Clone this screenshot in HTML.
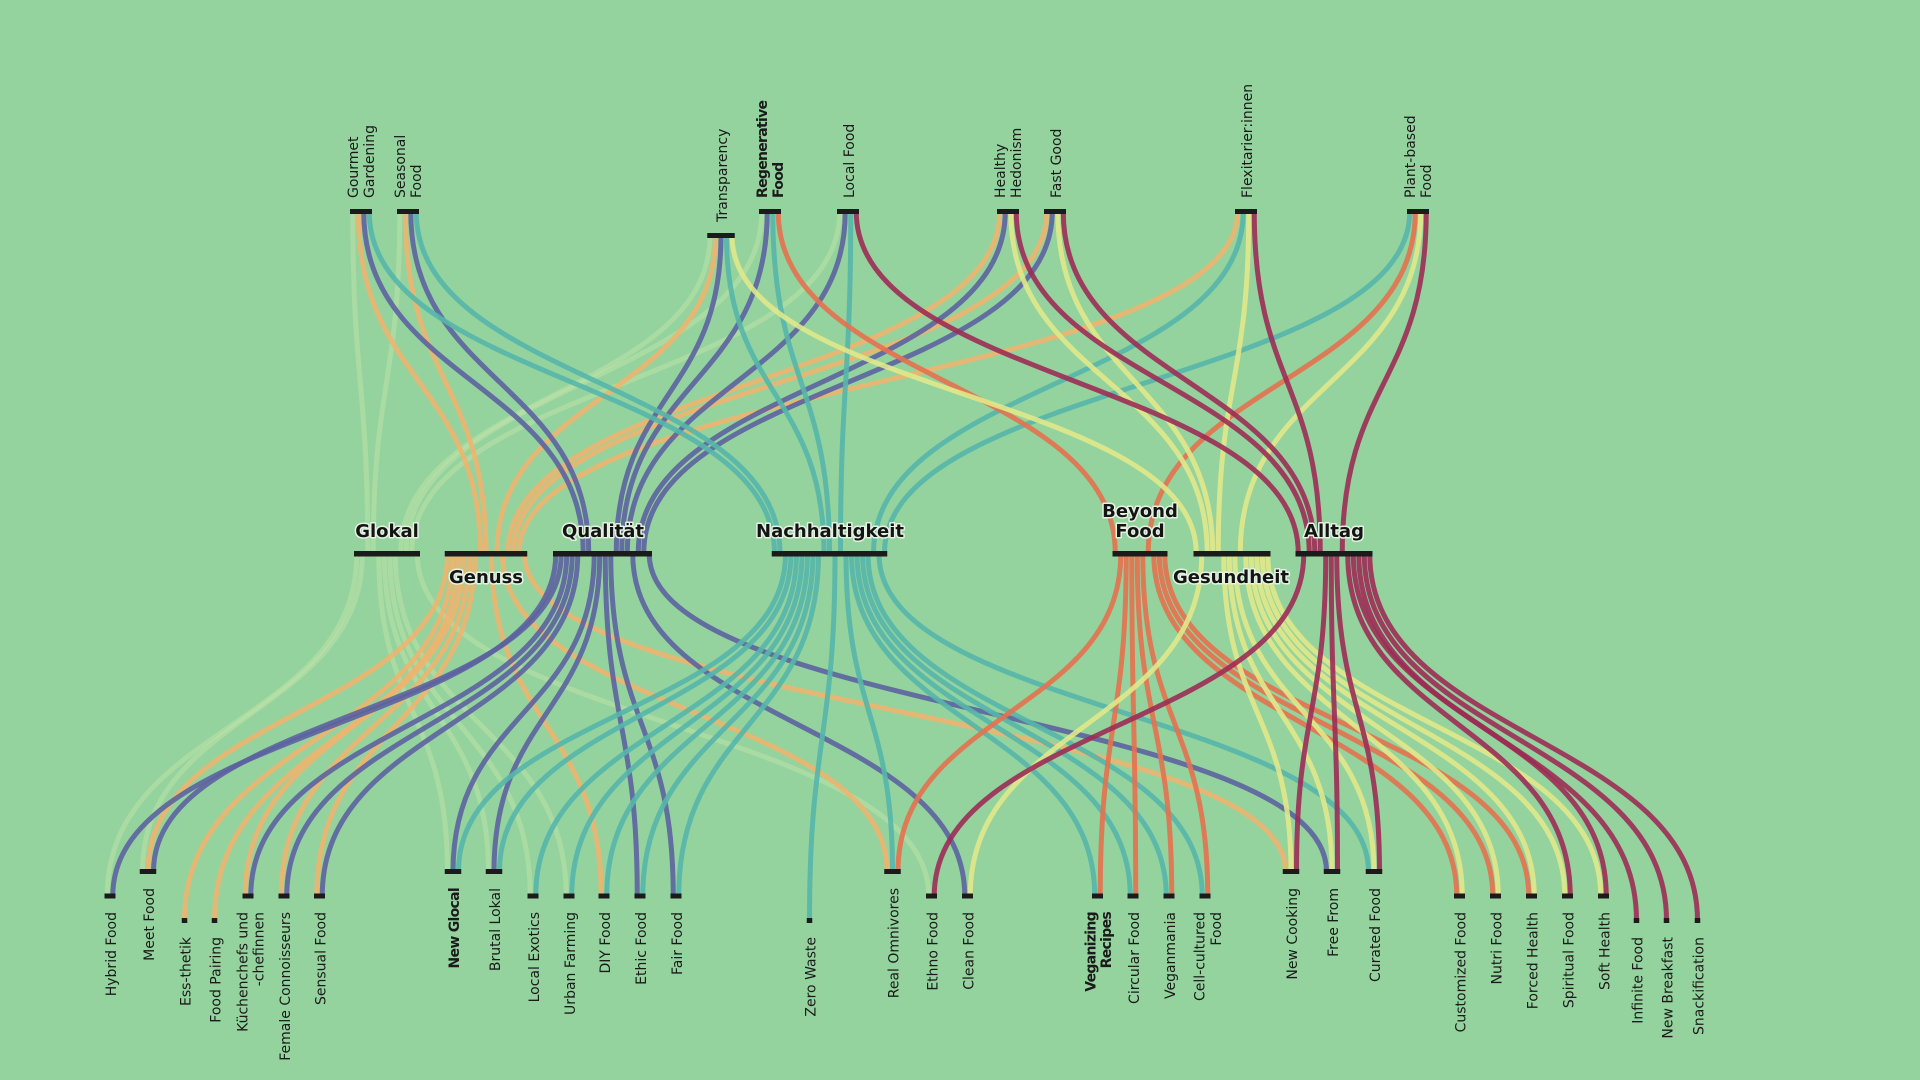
<!DOCTYPE html>
<html>
<head>
<meta charset="utf-8">
<style>
  html,body{margin:0;padding:0;background:#94d39e;}
  svg{display:block;}
  .lb{font-family:"DejaVu Sans","Liberation Sans",sans-serif;font-size:14px;fill:#1a1a1a;}
  .bd{font-weight:bold;letter-spacing:-0.7px;}
  .mid{font-family:"DejaVu Sans","Liberation Sans",sans-serif;font-size:18px;font-weight:bold;fill:#141414;stroke:#e4f2e2;stroke-width:3px;paint-order:stroke;stroke-linejoin:round;}
</style>
</head>
<body>
<svg id="chart" width="1920" height="1080" viewBox="0 0 1920 1080" xmlns="http://www.w3.org/2000/svg">
  <rect x="0" y="0" width="1920" height="1080" fill="#94d39e"/>
  <g id="links" fill="none" stroke-width="5"></g>
  <g id="bars" fill="#1b1b1b"></g>

  <!-- middle labels -->
  <g>
    <text class="mid" x="387" y="537" text-anchor="middle">Glokal</text>
    <text class="mid" x="603" y="537" text-anchor="middle">Qualität</text>
    <text class="mid" x="830" y="537" text-anchor="middle">Nachhaltigkeit</text>
    <text class="mid" x="1140" y="517" text-anchor="middle">Beyond</text>
    <text class="mid" x="1140" y="537" text-anchor="middle">Food</text>
    <text class="mid" x="1334" y="537" text-anchor="middle">Alltag</text>
    <text class="mid" x="486" y="583" text-anchor="middle">Genuss</text>
    <text class="mid" x="1231" y="583" text-anchor="middle">Gesundheit</text>
  </g>

  <!-- top labels -->
  <g class="lb">
    <text class="lb" transform="translate(358,198) rotate(-90)">Gourmet</text>
    <text class="lb" transform="translate(374,198) rotate(-90)">Gardening</text>
    <text class="lb" transform="translate(405,198) rotate(-90)">Seasonal</text>
    <text class="lb" transform="translate(421,198) rotate(-90)">Food</text>
    <text class="lb" transform="translate(727,222) rotate(-90)">Transparency</text>
    <text class="lb bd" transform="translate(767,198) rotate(-90)">Regenerative</text>
    <text class="lb bd" transform="translate(783,198) rotate(-90)">Food</text>
    <text class="lb" transform="translate(854,198) rotate(-90)">Local Food</text>
    <text class="lb" transform="translate(1005,198) rotate(-90)">Healthy</text>
    <text class="lb" transform="translate(1021,198) rotate(-90)">Hedonism</text>
    <text class="lb" transform="translate(1061,198) rotate(-90)">Fast Good</text>
    <text class="lb" transform="translate(1252,198) rotate(-90)">Flexitarier:innen</text>
    <text class="lb" transform="translate(1415,198) rotate(-90)">Plant-based</text>
    <text class="lb" transform="translate(1431,198) rotate(-90)">Food</text>
  </g>

  <!-- bottom labels -->
  <g>
    <text class="lb" text-anchor="end" transform="translate(116,912) rotate(-90)">Hybrid Food</text>
    <text class="lb" text-anchor="end" transform="translate(154,888) rotate(-90)">Meet Food</text>
    <text class="lb" text-anchor="end" transform="translate(190.5,937) rotate(-90)">Ess-thetik</text>
    <text class="lb" text-anchor="end" transform="translate(220.5,937) rotate(-90)">Food Pairing</text>
    <text class="lb" text-anchor="end" transform="translate(247.5,912) rotate(-90)">Küchenchefs und</text>
    <text class="lb" text-anchor="end" transform="translate(263.5,912) rotate(-90)">-chefinnen</text>
    <text class="lb" text-anchor="end" transform="translate(290,912) rotate(-90)">Female Connoisseurs</text>
    <text class="lb" text-anchor="end" transform="translate(325.5,912) rotate(-90)">Sensual Food</text>
    <text class="lb bd" text-anchor="end" transform="translate(459,888) rotate(-90)">New Glocal</text>
    <text class="lb" text-anchor="end" transform="translate(500,888) rotate(-90)">Brutal Lokal</text>
    <text class="lb" text-anchor="end" transform="translate(539,912) rotate(-90)">Local Exotics</text>
    <text class="lb" text-anchor="end" transform="translate(575,912) rotate(-90)">Urban Farming</text>
    <text class="lb" text-anchor="end" transform="translate(610,912) rotate(-90)">DIY Food</text>
    <text class="lb" text-anchor="end" transform="translate(646,912) rotate(-90)">Ethic Food</text>
    <text class="lb" text-anchor="end" transform="translate(682,912) rotate(-90)">Fair Food</text>
    <text class="lb" text-anchor="end" transform="translate(815.5,937) rotate(-90)">Zero Waste</text>
    <text class="lb" text-anchor="end" transform="translate(898.5,888) rotate(-90)">Real Omnivores</text>
    <text class="lb" text-anchor="end" transform="translate(937.5,912) rotate(-90)">Ethno Food</text>
    <text class="lb" text-anchor="end" transform="translate(973.5,912) rotate(-90)">Clean Food</text>
    <text class="lb bd" text-anchor="end" transform="translate(1095.5,912) rotate(-90)">Veganizing</text>
    <text class="lb bd" text-anchor="end" transform="translate(1111,912) rotate(-90)">Recipes</text>
    <text class="lb" text-anchor="end" transform="translate(1139,912) rotate(-90)">Circular Food</text>
    <text class="lb" text-anchor="end" transform="translate(1175,912) rotate(-90)">Veganmania</text>
    <text class="lb" text-anchor="end" transform="translate(1204.5,912) rotate(-90)">Cell-cultured</text>
    <text class="lb" text-anchor="end" transform="translate(1221,912) rotate(-90)">Food</text>
    <text class="lb" text-anchor="end" transform="translate(1297,888) rotate(-90)">New Cooking</text>
    <text class="lb" text-anchor="end" transform="translate(1338,888) rotate(-90)">Free From</text>
    <text class="lb" text-anchor="end" transform="translate(1380,888) rotate(-90)">Curated Food</text>
    <text class="lb" text-anchor="end" transform="translate(1465.5,912) rotate(-90)">Customized Food</text>
    <text class="lb" text-anchor="end" transform="translate(1501.5,912) rotate(-90)">Nutri Food</text>
    <text class="lb" text-anchor="end" transform="translate(1537.5,912) rotate(-90)">Forced Health</text>
    <text class="lb" text-anchor="end" transform="translate(1573.5,912) rotate(-90)">Spiritual Food</text>
    <text class="lb" text-anchor="end" transform="translate(1609.5,912) rotate(-90)">Soft Health</text>
    <text class="lb" text-anchor="end" transform="translate(1642.5,937) rotate(-90)">Infinite Food</text>
    <text class="lb" text-anchor="end" transform="translate(1672.5,937) rotate(-90)">New Breakfast</text>
    <text class="lb" text-anchor="end" transform="translate(1703.5,937) rotate(-90)">Snackification</text>
  </g>
</svg>
<script>
(function(){
  var NS="http://www.w3.org/2000/svg";
  var S=5.5, MY=551, MH=5.5;
  var ORDER=["GL","GE","QU","NA","BF","GS","AL"];
  var M={GL:[387,"#c6e4a8",0.45],GE:[486,"#ecb56f",0.9],QU:[602.5,"#5c62a0",0.9],NA:[829.5,"#55b6aa",0.9],BF:[1140,"#e4714f",0.9],GS:[1232,"#e0e88a",0.9],AL:[1334,"#9c2c55",0.9]};
  var T=[[361,"GL GE QU NA"],[408,"GL GE QU NA"],[721,"GL GE QU NA GS"],[770,"GL QU NA BF"],[848,"GL QU NA AL"],[1008,"GE QU GS AL"],[1055,"GE QU GS AL"],[1246,"GE NA GS AL"],[1418,"NA BF GS AL"]];
  var B=[[110,"GL QU"],[148,"GL GE QU"],[184.5,"GE"],[214.5,"GE"],[248,"GE QU"],[284,"GE QU"],[319.5,"GE QU"],[453,"GL QU NA"],[494,"GL QU NA"],[533,"GL NA"],[569,"GL NA"],[604,"GE NA"],[640,"QU NA"],[676,"QU NA"],[809.5,"NA"],[892.5,"GE NA BF"],[931.5,"GL AL"],[967.5,"QU GS"],[1097.5,"NA BF"],[1133,"NA BF"],[1169,"NA BF"],[1205,"NA BF"],[1291,"GE GS AL"],[1332,"QU GS AL"],[1374,"NA GS AL"],[1459.5,"BF GS"],[1495.5,"BF GS"],[1531.5,"BF GS"],[1567.5,"GS AL"],[1603.5,"GS AL"],[1636.5,"AL"],[1666.5,"AL"],[1697.5,"AL"]];
  var links=[], bars=[];
  function sortKeys(ks){return ks.sort(function(a,b){return M[a][0]-M[b][0];});}
  T.forEach(function(t){
    var ks=sortKeys(t[1].split(" ")), n=ks.length;
    var y=209+(n-4)*24, left=t[0]-n*S/2;
    bars.push([left,y,n*S,5]);
    ks.forEach(function(k,i){links.push({m:k,o:t[0],x:left+(i+0.5)*S,y:y+2.5,up:true});});
  });
  B.forEach(function(b){
    var ks=sortKeys(b[1].split(" ")), n=ks.length;
    var y=918-(n-1)*24.5, left=b[0]-n*S/2;
    bars.push([left,y,n*S,5]);
    ks.forEach(function(k,i){links.push({m:k,o:b[0],x:left+(i+0.5)*S,y:y+2.5,up:false});});
  });
  var gl=document.getElementById("links"), gb=document.getElementById("bars");
  ORDER.forEach(function(k){
    var L=links.filter(function(l){return l.m===k;}).sort(function(a,b){return a.o-b.o;});
    var n=L.length, left=M[k][0]-n*S/2;
    bars.push([left,MY,n*S,MH]);
    L.forEach(function(l,i){
      var mx=left+(i+0.5)*S, d;
      if(l.up){
        var y0=l.y, y1=MY+2, ym=(y0+y1)/2;
        d="M"+l.x+","+y0+"C"+l.x+","+ym+" "+mx+","+ym+" "+mx+","+y1;
      } else {
        var y0=MY+3, y1=l.y, ym=(y0+y1)/2;
        d="M"+mx+","+y0+"C"+mx+","+ym+" "+l.x+","+ym+" "+l.x+","+y1;
      }
      var p=document.createElementNS(NS,"path");
      p.setAttribute("d",d);
      p.setAttribute("stroke",M[k][1]);
      p.setAttribute("stroke-opacity",M[k][2]);
      gl.appendChild(p);
    });
  });
  bars.forEach(function(b){
    var r=document.createElementNS(NS,"rect");
    r.setAttribute("x",b[0]);r.setAttribute("y",b[1]);
    r.setAttribute("width",b[2]);r.setAttribute("height",b[3]);
    gb.appendChild(r);
  });
})();
</script>
</body>
</html>
